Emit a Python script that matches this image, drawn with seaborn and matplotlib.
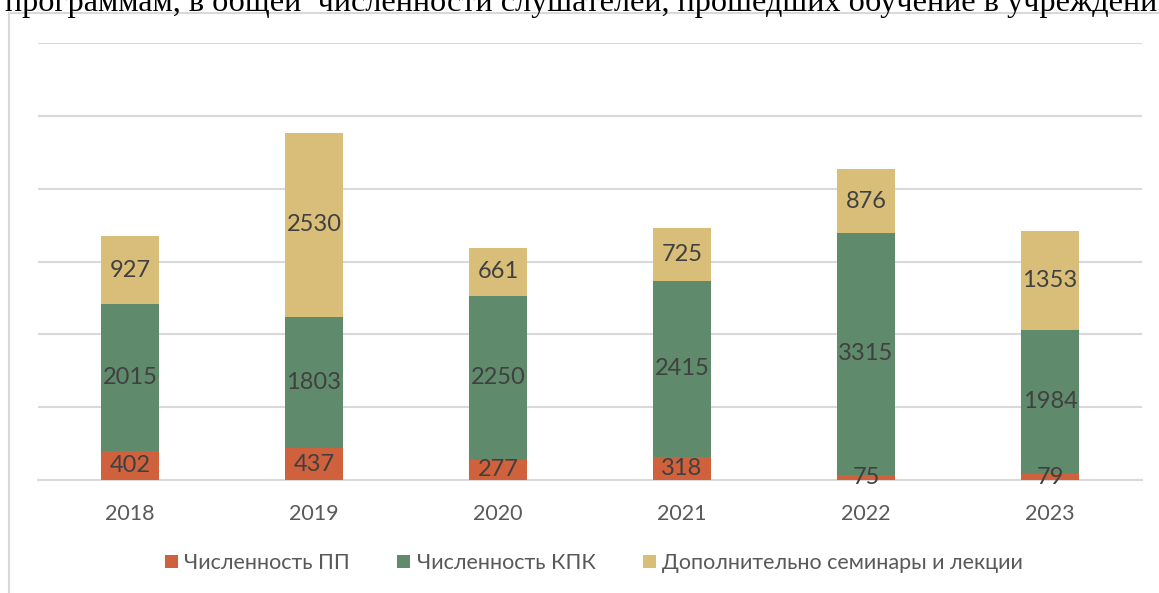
import numpy as np
import pandas as pd
import seaborn as sns
import matplotlib.pyplot as plt
from matplotlib.patches import Patch, Rectangle

years = ['2018', '2019', '2020', '2021', '2022', '2023']
pp = [402, 437, 277, 318, 75, 79]
kpk = [2015, 1803, 2250, 2415, 3315, 1984]
sem = [927, 2530, 661, 725, 876, 1353]

series_names = ['Численность ПП', 'Численность КПК', 'Дополнительно семинары и лекции']
colors = ['#CF623C', '#5F8A6C', '#D8BE78']

title_text = 'программам, в общей  численности слушателей, прошедших обучение в учреждени'

sns.set_theme(style='white')
plt.rcParams['font.family'] = ['Lato', 'DejaVu Sans']

df = pd.DataFrame({'year': years, 'pp': pp, 'kpk': kpk, 'sem': sem})
df['c1'] = df['pp']
df['c2'] = df['pp'] + df['kpk']
df['c3'] = df['c2'] + df['sem']

fig = plt.figure(figsize=(11.59, 5.93), dpi=100)
ax = fig.add_axes([38 / 1159, 1 - 480 / 593, 1104 / 1159, 437 / 593])

# stacked by overlaying cumulative totals, tallest first
for col, c in zip(['c3', 'c2', 'c1'], colors[::-1]):
    sns.barplot(data=df, x='year', y=col, color=c, width=0.31, ax=ax,
                saturation=1, edgecolor='none', zorder=3)

ax.set_ylim(0, 6000)
ax.set_yticks(np.arange(0, 6001, 1000))
ax.yaxis.grid(True, color='#D9D9D9', linewidth=1.5, zorder=0)
ax.set_yticklabels([])
ax.tick_params(axis='y', length=0)
ax.tick_params(axis='x', length=0, pad=17, labelsize=15.5, labelcolor='#595959')
ax.set_xlabel('')
ax.set_ylabel('')
for s in ['top', 'right', 'left']:
    ax.spines[s].set_visible(False)
ax.spines['bottom'].set_color('#D9D9D9')
ax.spines['bottom'].set_linewidth(1.5)
ax.spines['bottom'].set_zorder(2)

# value labels centred in each segment
for i in range(len(years)):
    lows = [0, pp[i], pp[i] + kpk[i]]
    vals = [pp[i], kpk[i], sem[i]]
    for lo, v in zip(lows, vals):
        ax.text(i, lo + v / 2, str(v), ha='center', va='center',
                fontsize=17, color='#404040', zorder=5)

handles = [Patch(facecolor=c, edgecolor='none') for c in colors]
fig.legend(handles, series_names, loc='center', bbox_to_anchor=(594 / 1159, 1 - 563 / 593),
           ncol=3, frameon=False, fontsize=15.5, handlelength=0.6, handleheight=0.6,
           handletextpad=0.3, columnspacing=2.2, labelcolor='#595959')

# chart frame (extends beyond the picture on right and bottom)
fig.patches.append(Rectangle((9 / 1159, -0.1), 1.2, 1 - 13 / 593 + 0.1,
                             transform=fig.transFigure, fill=False,
                             edgecolor='#D9D9D9', linewidth=1.5))

fig.text(5 / 1159, 1 - 11 / 593, title_text, ha='left', va='baseline',
         fontsize=23.2, family=['Liberation Serif', 'DejaVu Serif'], color='black')

fig.savefig('out.png', dpi=100)
